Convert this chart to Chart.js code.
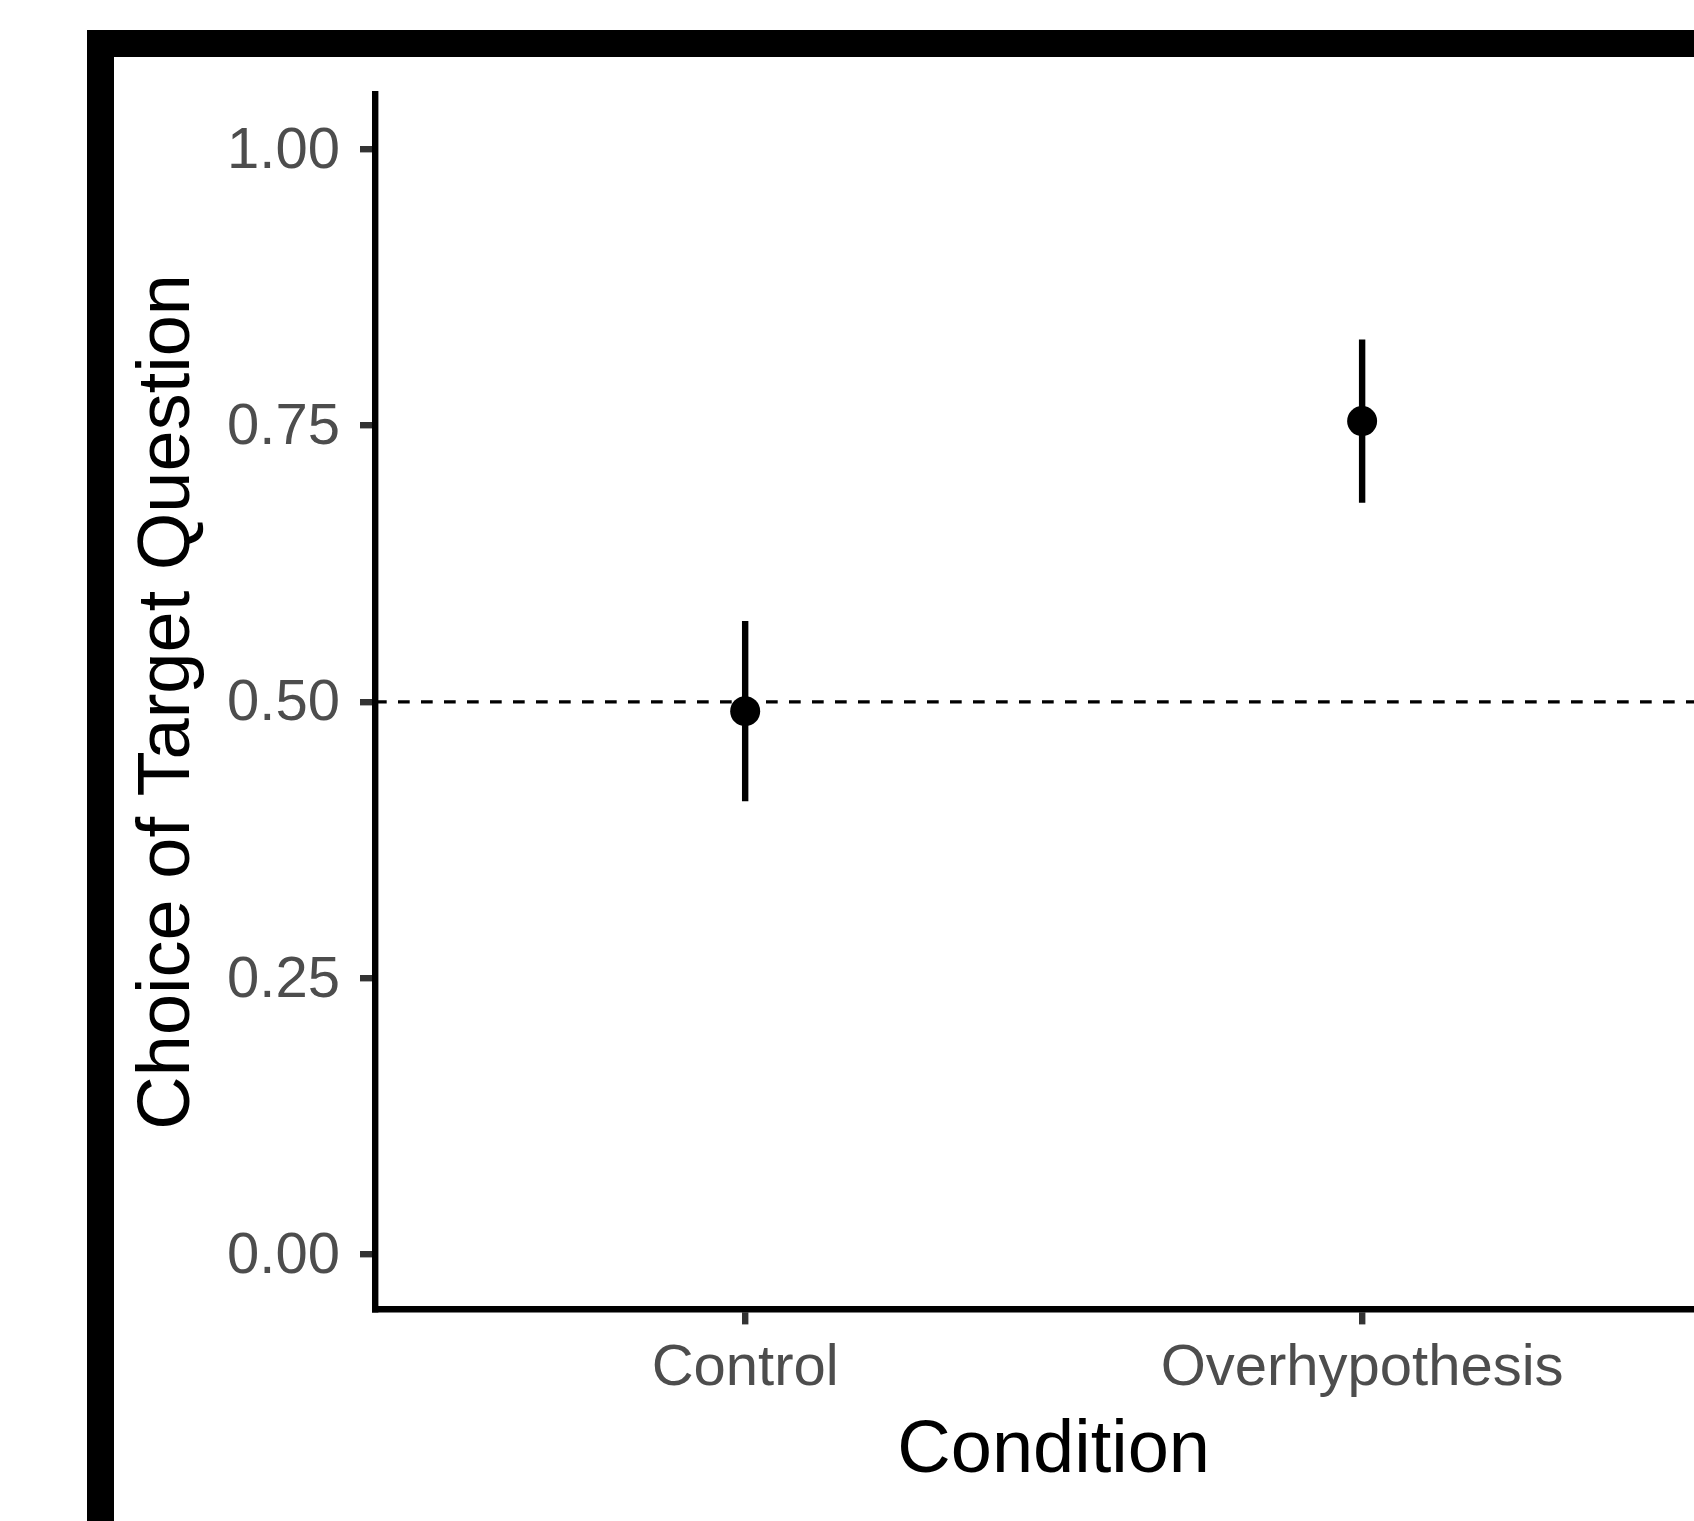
<!DOCTYPE html>
<html>
<head>
<meta charset="utf-8">
<script src="https://cdn.jsdelivr.net/npm/chart.js@4.4.1/dist/chart.umd.min.js"></script>
<style>
  html, body { margin: 0; padding: 0; background: #fff; overflow: hidden; width: 1694px; height: 1521px; }
  #wrap { position: relative; width: 1694px; height: 1521px; overflow: hidden; }
  #chart { position: absolute; left: 0; top: 0; }
  #frame {
    position: absolute; left: 87px; top: 30px;
    width: 2000px; height: 2000px;
    border: 27px solid #000; pointer-events: none;
  }
</style>
</head>
<body>
<div id="wrap">
  <canvas id="chart" width="1760" height="1521" style="width:1760px;height:1521px"></canvas>
  <div id="frame"></div>
</div>
<script>
// datos
const conditions = ['Control', 'Overhypothesis'];
const conditionPos = [1, 2];
const means = [0.4916, 0.7542];
const lower = [0.4101, 0.6802];
const upper = [0.5733, 0.8281];
const chanceLevel = 0.5;

const yTickValues = [0, 0.25, 0.5, 0.75, 1];
const yTickLabels = ['0.00', '0.25', '0.50', '0.75', '1.00'];

const xMin = 0.4, xMax = 2.6;
const yMin = -0.05, yMax = 1.05;

const FONT = "'Liberation Sans', Arial, Helvetica, sans-serif";
const LINE_W = 6.4;

const datasets = [];

// puntos (primero = se dibujan encima)
datasets.push({
    type: 'scatter',
    data: conditionPos.map((x, i) => ({ x: x, y: means[i] })),
    backgroundColor: '#000',
    borderWidth: 0,
    pointRadius: 15,
    pointHoverRadius: 15
});

// barras de error
conditionPos.forEach((x, i) => {
    datasets.push({
        type: 'line',
        data: [{ x: x, y: lower[i] }, { x: x, y: upper[i] }],
        borderColor: '#000',
        borderWidth: LINE_W,
        borderCapStyle: 'butt',
        pointRadius: 0,
        fill: false
    });
});

// linea de azar
datasets.push({
    type: 'line',
    data: [{ x: xMin, y: chanceLevel }, { x: xMax, y: chanceLevel }],
    borderColor: '#000',
    borderWidth: 3.3,
    borderDash: [11.7, 11.3],
    borderCapStyle: 'butt',
    pointRadius: 0,
    fill: false
});

new Chart(document.getElementById('chart'), {
    type: 'scatter',
    data: { datasets: datasets },
    options: {
        responsive: false,
        animation: false,
        events: [],
        layout: { padding: { top: 94.3, right: 1760 - 1732.3, bottom: 0, left: 0 } },
        plugins: { legend: { display: false }, tooltip: { enabled: false } },
        scales: {
            x: {
                type: 'linear',
                min: xMin,
                max: xMax,
                afterBuildTicks: (scale) => { scale.ticks = conditionPos.map(v => ({ value: v })); },
                afterFit: (scale) => { scale.height = 1521 - 1309.4; },
                grid: {
                    display: true,
                    drawOnChartArea: false,
                    drawTicks: true,
                    tickLength: 15,
                    tickWidth: LINE_W,
                    tickColor: '#333333',
                    lineWidth: LINE_W
                },
                border: { display: true, color: '#000', width: LINE_W },
                ticks: {
                    autoSkip: false,
                    maxRotation: 0,
                    padding: 10,
                    color: '#4D4D4D',
                    font: { family: FONT, size: 58, lineHeight: 1.2 },
                    callback: (value, index) => conditions[index]
                },
                title: {
                    display: true,
                    text: 'Condition',
                    color: '#000',
                    font: { family: FONT, size: 74, lineHeight: 1.2 },
                    padding: { top: 0, bottom: 25.5 }
                }
            },
            y: {
                type: 'linear',
                min: yMin,
                max: yMax,
                afterBuildTicks: (scale) => { scale.ticks = yTickValues.map(v => ({ value: v })); },
                afterFit: (scale) => { scale.width = 375; },
                grid: {
                    display: true,
                    drawOnChartArea: false,
                    drawTicks: true,
                    tickLength: 15,
                    tickWidth: LINE_W,
                    tickColor: '#333333',
                    lineWidth: LINE_W
                },
                border: { display: true, color: '#000', width: LINE_W },
                ticks: {
                    padding: 20,
                    labelOffset: 2.5,
                    color: '#4D4D4D',
                    font: { family: FONT, size: 58, lineHeight: 1.2 },
                    callback: (value, index) => yTickLabels[index]
                },
                title: {
                    display: true,
                    text: 'Choice of Target Question',
                    color: '#000',
                    font: { family: FONT, size: 74, lineHeight: 1.2 },
                    padding: { top: 124, bottom: 0 }
                }
            }
        }
    }
});
</script>
</body>
</html>
